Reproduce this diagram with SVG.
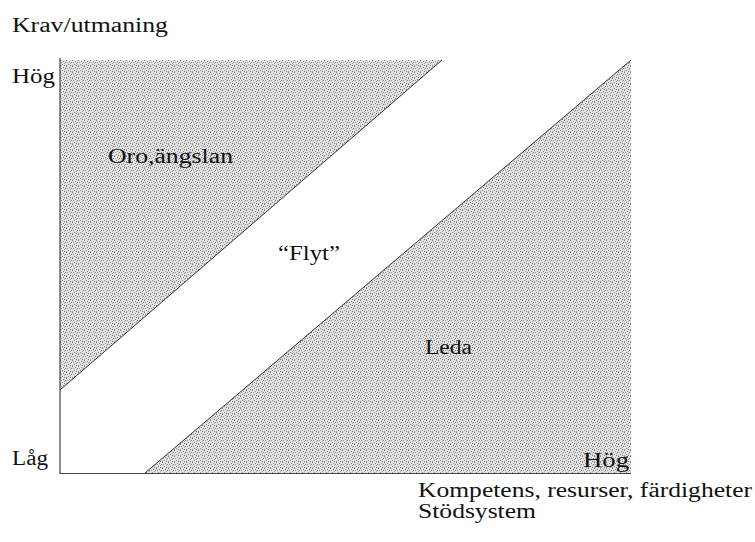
<svg xmlns="http://www.w3.org/2000/svg" width="755" height="542" viewBox="0 0 755 542">
<style>
text{font-family:"Liberation Serif","Times New Roman",serif;font-size:20px;fill:#111}
.zone{fill:url(#stipple);stroke:none}
.edge{stroke:#333;stroke-width:1;fill:none}
.axis{stroke:#444;stroke-width:1.2;fill:none}
</style>
<defs>
<pattern id="stipple" width="6" height="6" patternUnits="userSpaceOnUse">
<rect width="6" height="6" fill="#e2e2e2"/>
<rect x="0" y="0" width="1" height="1" fill="#7a7a7a"/>
<rect x="3" y="1" width="1" height="1" fill="#8a8a8a"/>
<rect x="1" y="2" width="1" height="1" fill="#999"/>
<rect x="5" y="2" width="1" height="1" fill="#7a7a7a"/>
<rect x="2" y="4" width="1" height="1" fill="#888"/>
<rect x="4" y="3" width="1" height="1" fill="#aaa"/>
<rect x="0" y="5" width="1" height="1" fill="#999"/>
<rect x="4" y="5" width="1" height="1" fill="#7a7a7a"/>
</pattern>
</defs>
<g id="zone-oro">
<polygon class="zone" points="60,60 442,60 60,390"/>
<line class="edge" x1="60" y1="390" x2="442" y2="60"/>
</g>
<g id="zone-leda">
<polygon class="zone" points="145,473 631,60 631,473"/>
<line class="edge" x1="145" y1="473" x2="631" y2="60"/>
</g>
<g id="axes">
<polyline class="axis" points="60,58 60,473.5 631,473.5"/>
</g>
<g id="labels">
<text x="12" y="32" textLength="156" lengthAdjust="spacingAndGlyphs">Krav/utmaning</text>
<text x="12" y="83" textLength="43" lengthAdjust="spacingAndGlyphs">Hög</text>
<text x="12" y="465" textLength="36" lengthAdjust="spacingAndGlyphs">Låg</text>
<text x="583" y="467" textLength="46" lengthAdjust="spacingAndGlyphs">Hög</text>
<text x="108" y="163" textLength="125" lengthAdjust="spacingAndGlyphs">Oro,ängslan</text>
<text x="278" y="260" textLength="62" lengthAdjust="spacingAndGlyphs">“Flyt”</text>
<text x="425" y="354" textLength="47" lengthAdjust="spacingAndGlyphs">Leda</text>
<text x="418" y="497" textLength="334" lengthAdjust="spacingAndGlyphs">Kompetens, resurser, färdigheter</text>
<text x="418" y="518" textLength="118" lengthAdjust="spacingAndGlyphs">Stödsystem</text>
</g>
</svg>
